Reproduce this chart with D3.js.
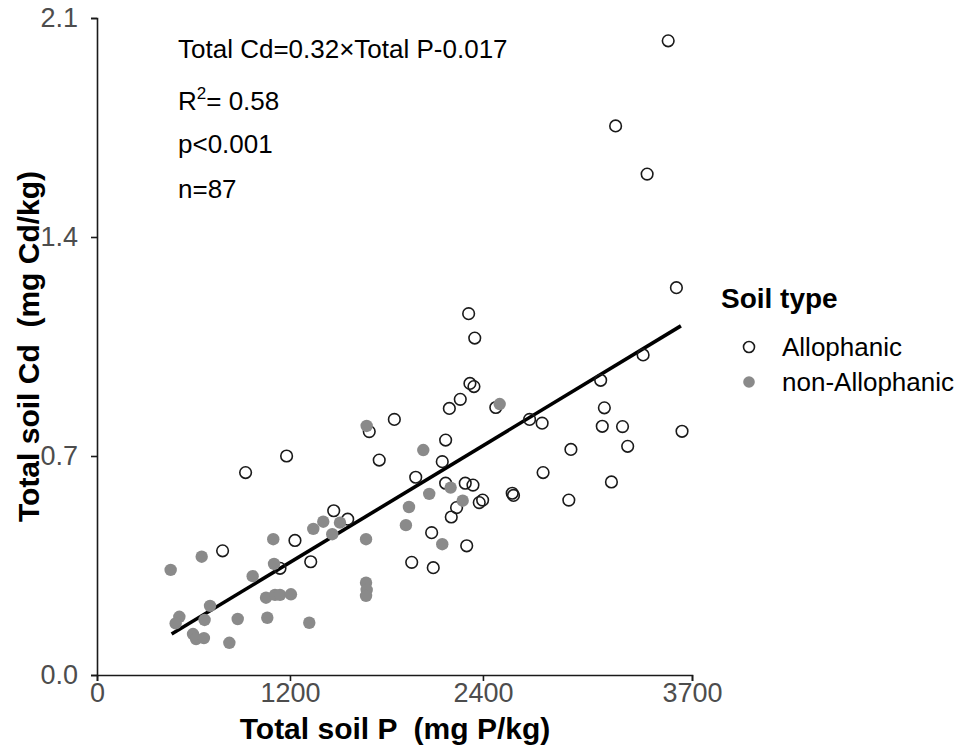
<!DOCTYPE html>
<html>
<head>
<meta charset="utf-8">
<script src="https://cdn.jsdelivr.net/npm/d3@7"></script>
<style>
  body { margin: 0; background: #fff; }
  svg text { font-family: "Liberation Sans", Arial, sans-serif; white-space: pre; }
</style>
</head>
<body>
<svg id="chart" width="961" height="747"></svg>
<script>
// Allophanic soils (open circles): [total P mg/kg, total Cd mg/kg]
const allophanic = [
    [781, 0.397], [1231, 0.430], [1329, 0.362], [1138, 0.341], [924, 0.647],
    [1179, 0.700], [1472, 0.525], [1559, 0.498], [1693, 0.778], [1849, 0.817],
    [1755, 0.687], [1982, 0.632], [2147, 0.682], [2168, 0.751], [2168, 0.613],
    [2290, 0.613], [2338, 0.607], [2236, 0.535], [2203, 0.505], [2377, 0.551],
    [2398, 0.559], [2582, 0.581], [2081, 0.455], [2299, 0.413], [1957, 0.360],
    [2091, 0.343], [2191, 0.852], [2259, 0.881], [2480, 0.855], [2319, 0.932],
    [2344, 0.922], [2311, 1.155], [2349, 1.077], [3603, 1.238], [2690, 0.817],
    [2768, 0.805], [3132, 0.942], [3396, 1.023], [3155, 0.854], [3142, 0.795],
    [3268, 0.794], [3638, 0.779], [3300, 0.731], [2947, 0.721], [2774, 0.647],
    [3199, 0.617], [2590, 0.574], [2934, 0.559], [3552, 2.027], [3225, 1.755],
    [3421, 1.601]
];

// non-Allophanic soils (filled grey)
const nonAllophanic = [
    [458, 0.336], [651, 0.378], [512, 0.186], [489, 0.165], [703, 0.221],
    [669, 0.176], [597, 0.131], [616, 0.115], [665, 0.118], [823, 0.103],
    [875, 0.179], [968, 0.316], [1096, 0.434], [1101, 0.355], [1059, 0.183],
    [1051, 0.247], [1107, 0.256], [1138, 0.256], [1206, 0.258], [1320, 0.167],
    [1345, 0.467], [1407, 0.490], [1511, 0.487], [1463, 0.450], [1677, 0.796],
    [2504, 0.866], [2029, 0.719], [2199, 0.599], [2274, 0.557], [2066, 0.579],
    [1940, 0.537], [1921, 0.479], [2147, 0.418], [1673, 0.434], [1673, 0.295],
    [1677, 0.272], [1673, 0.253]
];

// fitted line as drawn (slope per mg P/kg), over the data range
const fitSlope = 0.000311;
const fitIntercept = -0.0134;
const fitRange = [464, 3631];

const xTicks = [0, 1200, 2400, 3700];
const yTicks = [0.0, 0.7, 1.4, 2.1];

const annotations = ["Total Cd=0.32×Total P-0.017", "R2", "p<0.001", "n=87"];
const legendLabels = ["Allophanic", "non-Allophanic"];

const svg = d3.select('#chart');
const margin = { left: 97, top: 18, right: 692, bottom: 675 };

const x = d3.scaleLinear().domain([0, 3700]).range([margin.left, margin.right]);
const y = d3.scaleLinear().domain([0, 2.1]).range([margin.bottom, margin.top]);

const axisColor = '#1a1a1a';
const tickColor = '#4d4d4d';

// axes
const xAxis = svg.append('g')
    .attr('transform', `translate(0,${margin.bottom})`)
    .call(d3.axisBottom(x).tickValues(xTicks).tickSize(6).tickPadding(1).tickFormat(d3.format('d')));
const yAxis = svg.append('g')
    .attr('transform', `translate(${margin.left},0)`)
    .call(d3.axisLeft(y).tickValues(yTicks).tickSize(6).tickPadding(13).tickFormat(d3.format('.1f')));

[xAxis, yAxis].forEach(a => {
    a.select('.domain').attr('stroke', axisColor).attr('stroke-width', 1.6);
    a.selectAll('.tick line').attr('stroke', axisColor).attr('stroke-width', 1.6);
    a.selectAll('.tick text')
        .attr('fill', tickColor)
        .style('font-size', '27px');
});
xAxis.selectAll('.tick text').attr('dy', '0.74em');

// axis titles
svg.append('text')
    .attr('x', 395)
    .attr('y', 739)
    .attr('text-anchor', 'middle')
    .style('font-size', '30px')
    .style('font-weight', 'bold')
    .text('Total soil P  (mg P/kg)');

svg.append('text')
    .attr('transform', `translate(39,${(margin.top + margin.bottom) / 2}) rotate(-90)`)
    .attr('text-anchor', 'middle')
    .style('font-size', '30px')
    .style('font-weight', 'bold')
    .text('Total soil Cd  (mg Cd/kg)');

// regression line
svg.append('line')
    .attr('x1', x(fitRange[0]))
    .attr('y1', y(fitIntercept + fitSlope * fitRange[0]))
    .attr('x2', x(fitRange[1]))
    .attr('y2', y(fitIntercept + fitSlope * fitRange[1]))
    .attr('stroke', '#000')
    .attr('stroke-width', 3.6);

// points
svg.append('g').selectAll('circle')
    .data(allophanic)
    .enter().append('circle')
    .attr('cx', d => x(d[0]))
    .attr('cy', d => y(d[1]))
    .attr('r', 5.8)
    .attr('fill', 'none')
    .attr('stroke', '#1a1a1a')
    .attr('stroke-width', 1.6);

svg.append('g').selectAll('circle')
    .data(nonAllophanic)
    .enter().append('circle')
    .attr('cx', d => x(d[0]))
    .attr('cy', d => y(d[1]))
    .attr('r', 6.2)
    .attr('fill', '#8a8a8a');

// annotations
const annY = [58, 110, 153, 198];
annotations.forEach((t, i) => {
    const txt = svg.append('text')
        .attr('x', 178)
        .attr('y', annY[i])
        .style('font-size', '26px')
        .attr('fill', '#000');
    if (t === 'R2') {
        txt.append('tspan').text('R');
        txt.append('tspan').attr('dy', -11).style('font-size', '17px').text('2');
        txt.append('tspan').attr('dy', 11).text('= 0.58');
    } else {
        txt.text(t);
    }
});

// legend
const legend = svg.append('g');
legend.append('text')
    .attr('x', 721)
    .attr('y', 308)
    .style('font-size', '28px')
    .style('font-weight', 'bold')
    .text('Soil type');

legendLabels.forEach((lab, i) => {
    const cy = 347 + i * 35;
    if (i === 0) {
        legend.append('circle').attr('cx', 749).attr('cy', cy).attr('r', 5.5)
            .attr('fill', 'none').attr('stroke', '#1a1a1a').attr('stroke-width', 1.6);
    } else {
        legend.append('circle').attr('cx', 749).attr('cy', cy).attr('r', 5.8)
            .attr('fill', '#8a8a8a');
    }
    legend.append('text')
        .attr('x', 782)
        .attr('y', cy + 9)
        .style('font-size', '26px')
        .text(lab);
});
</script>
</body>
</html>
